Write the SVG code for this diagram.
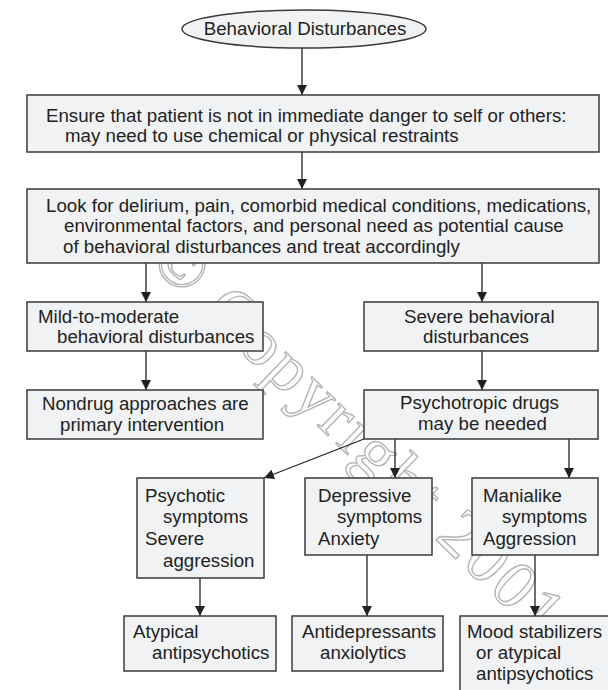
<svg xmlns="http://www.w3.org/2000/svg" width="608" height="690" viewBox="0 0 608 690">
<style>
.box{fill:#f1f2f3;stroke:#3a3a3a;stroke-width:1.5}
.t{font-family:"Liberation Sans",Arial,sans-serif;font-size:18.7px;fill:#222}
.c{stroke:#222;stroke-width:1.3;fill:none}
.wm{font-family:"Liberation Serif","Times New Roman",serif;font-size:68px;fill:#fff;stroke:#b5b5b5;stroke-width:1.4;letter-spacing:3px}
</style>
<defs>
<marker id="ah" markerWidth="10" markerHeight="10" refX="10" refY="5" orient="auto" markerUnits="userSpaceOnUse" viewBox="0 0 10 10">
<path d="M0,0 L10,5 L0,10 z" fill="#222"/>
</marker>
</defs>
<rect width="608" height="690" fill="#fff"/>
<text class="wm" transform="translate(148,262) rotate(44)">© Copyright 2001</text>
<g id="connectors">
<line class="c" x1="302" y1="48" x2="302" y2="95" marker-end="url(#ah)"/>
<line class="c" x1="302" y1="152" x2="302" y2="189" marker-end="url(#ah)"/>
<line class="c" x1="146" y1="263" x2="146" y2="302" marker-end="url(#ah)"/>
<line class="c" x1="482" y1="263" x2="482" y2="302" marker-end="url(#ah)"/>
<line class="c" x1="146" y1="351" x2="146" y2="390" marker-end="url(#ah)"/>
<line class="c" x1="482" y1="351" x2="482" y2="390" marker-end="url(#ah)"/>
<line class="c" x1="364" y1="439" x2="264" y2="478" marker-end="url(#ah)"/>
<line class="c" x1="395" y1="439" x2="395" y2="478" marker-end="url(#ah)"/>
<line class="c" x1="569" y1="439" x2="569" y2="478" marker-end="url(#ah)"/>
<line class="c" x1="200" y1="578" x2="200" y2="616" marker-end="url(#ah)"/>
<line class="c" x1="367" y1="555" x2="367" y2="616" marker-end="url(#ah)"/>
<line class="c" x1="535" y1="555" x2="535" y2="616" marker-end="url(#ah)"/>
</g>
<g id="start">
<ellipse class="box" cx="304" cy="29" rx="122" ry="19"/>
<text class="t" x="305" y="35" text-anchor="middle">Behavioral Disturbances</text>
</g>
<g id="ensure">
<rect class="box" x="27" y="95" width="572" height="57"/>
<text class="t" x="46" y="121.5">Ensure that patient is not in immediate danger to self or others:</text>
<text class="t" x="65" y="141.5">may need to use chemical or physical restraints</text>
</g>
<g id="lookfor">
<rect class="box" x="27" y="189" width="572" height="74"/>
<text class="t" x="46" y="211.5">Look for delirium, pain, comorbid medical conditions, medications,</text>
<text class="t" x="64" y="232">environmental factors, and personal need as potential cause</text>
<text class="t" x="63" y="252.5">of behavioral disturbances and treat accordingly</text>
</g>
<g id="mild">
<rect class="box" x="27" y="302" width="236" height="49"/>
<text class="t" x="38" y="323">Mild-to-moderate</text>
<text class="t" x="57" y="343">behavioral disturbances</text>
</g>
<g id="severe">
<rect class="box" x="364" y="302" width="234" height="49"/>
<text class="t" x="404" y="323">Severe behavioral</text>
<text class="t" x="423" y="343">disturbances</text>
</g>
<g id="nondrug">
<rect class="box" x="27" y="390" width="236" height="49"/>
<text class="t" x="42" y="410">Nondrug approaches are</text>
<text class="t" x="60" y="431">primary intervention</text>
</g>
<g id="psychotropic">
<rect class="box" x="364" y="390" width="234" height="49"/>
<text class="t" x="400" y="409">Psychotropic drugs</text>
<text class="t" x="418" y="430">may be needed</text>
</g>
<g id="psychotic">
<rect class="box" x="137" y="478" width="127" height="100"/>
<text class="t" x="145" y="502">Psychotic</text>
<text class="t" x="163" y="523">symptoms</text>
<text class="t" x="145" y="545">Severe</text>
<text class="t" x="163" y="567">aggression</text>
</g>
<g id="depressive">
<rect class="box" x="305" y="478" width="127" height="77"/>
<text class="t" x="318" y="502">Depressive</text>
<text class="t" x="337" y="523">symptoms</text>
<text class="t" x="318" y="545">Anxiety</text>
</g>
<g id="manialike">
<rect class="box" x="472" y="478" width="126" height="77"/>
<text class="t" x="483" y="502">Manialike</text>
<text class="t" x="502" y="523">symptoms</text>
<text class="t" x="483" y="545">Aggression</text>
</g>
<g id="atypical">
<rect class="box" x="124" y="616" width="152" height="55"/>
<text class="t" x="133" y="638">Atypical</text>
<text class="t" x="152" y="659">antipsychotics</text>
</g>
<g id="antidepressants">
<rect class="box" x="292" y="616" width="151" height="55"/>
<text class="t" x="302" y="638">Antidepressants</text>
<text class="t" x="320" y="659">anxiolytics</text>
</g>
<g id="mood">
<rect class="box" x="460" y="616" width="160" height="90"/>
<text class="t" x="467" y="638">Mood stabilizers</text>
<text class="t" x="476" y="659">or atypical</text>
<text class="t" x="476" y="680">antipsychotics</text>
</g>
</svg>
